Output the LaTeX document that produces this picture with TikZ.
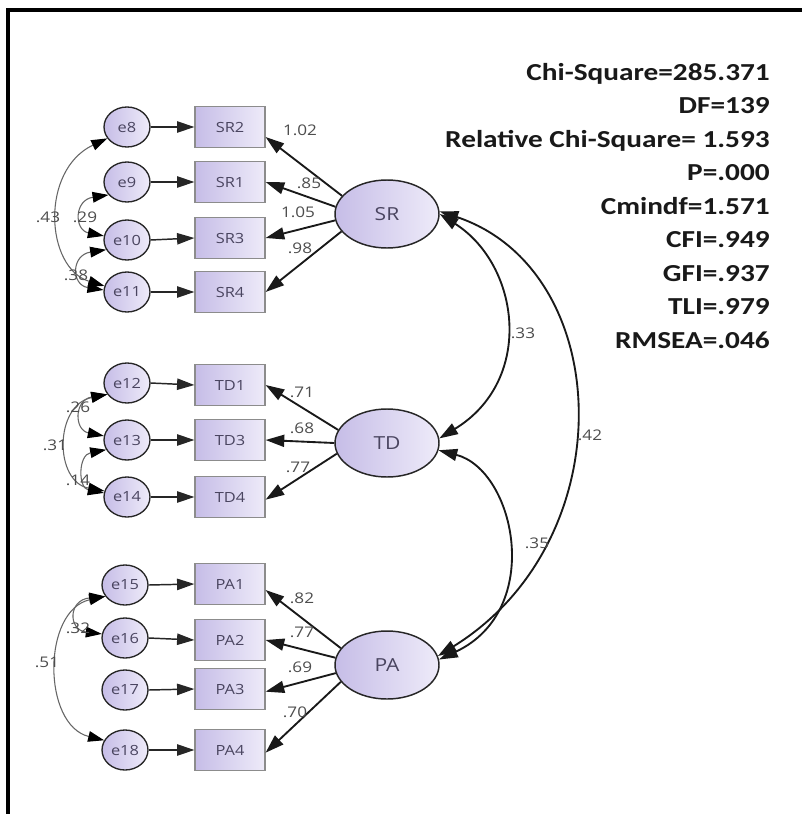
\documentclass[tikz,border=0pt]{standalone}
\usepackage{fontspec}
\usetikzlibrary{arrows.meta,shapes.geometric}
\newfontfamily\amosf[FakeStretch=1.17]{Open Sans}
\newfontfamily\fitf[FakeStretch=1.2]{Carlito}
\definecolor{lavL}{HTML}{C6BDE7}
\definecolor{lavR}{HTML}{EEEBF9}
\definecolor{txtc}{HTML}{4A4560}
\definecolor{numc}{HTML}{4D4D4D}
\begin{document}
\begin{tikzpicture}[x=0.75pt,y=-0.75pt,
 errc/.style={ellipse, draw=black!85, line width=1pt, left color=lavL, right color=lavR,
   minimum width=34.5pt, minimum height=30pt, inner sep=0pt,
   font=\amosf\fontsize{10.5}{12}\selectfont, text=txtc},
 obs/.style={rectangle, draw=gray!90, line width=0.9pt, left color=lavL, right color=lavR,
   minimum width=52.5pt, minimum height=30.75pt, inner sep=0pt,
   font=\amosf\fontsize{10.5}{12}\selectfont, text=txtc},
 lat/.style={ellipse, draw=black!85, line width=1.1pt, left color=lavL, right color=lavR,
   minimum width=78pt, minimum height=51pt, inner sep=0pt,
   font=\amosf\fontsize{13.5}{15}\selectfont, text=txtc},
 num/.style={font=\amosf\fontsize{11}{12}\selectfont, text=numc, inner sep=0pt},
 errarr/.style={-{Triangle[length=13pt,width=8.5pt]}, line width=1.1pt, draw=black!85},
 load/.style={-{Triangle[length=14pt,width=9pt]}, line width=1.4pt, draw=black!90},
 covL/.style={{Triangle[length=12pt,width=8pt,color=black]}-{Triangle[length=12pt,width=8pt,color=black]}, line width=0.8pt, draw=black!60},
 covR/.style={{Triangle[length=14pt,width=9pt]}-{Triangle[length=14pt,width=9pt]}, line width=1.4pt, draw=black!90},
 fitt/.style={font=\fitf\bfseries\fontsize{18.3}{20}\selectfont, text=black!90, inner sep=0pt, anchor=base east}]
\useasboundingbox (0,0) rectangle (802,814);
\fill[white] (0,0) rectangle (802,814);
\draw[line width=2.6pt] (8,820) -- (8,10) -- (810,10);

% error terms
\node[errc] (e8)  at (127,127) {e8};
\node[errc] (e9)  at (127,182) {e9};
\node[errc] (e10) at (127,240) {e10};
\node[errc] (e11) at (127,292) {e11};
\node[errc] (e12) at (127,383) {e12};
\node[errc] (e13) at (127,440) {e13};
\node[errc] (e14) at (127,497) {e14};
\node[errc] (e15) at (125,585) {e15};
\node[errc] (e16) at (125,638) {e16};
\node[errc] (e17) at (125,690) {e17};
\node[errc] (e18) at (125,750) {e18};

% observed
\node[obs] (SR2) at (230,127) {SR2};
\node[obs] (SR1) at (230,182) {SR1};
\node[obs] (SR3) at (230,238) {SR3};
\node[obs] (SR4) at (230,292) {SR4};
\node[obs] (TD1) at (230,385) {TD1};
\node[obs] (TD3) at (230,440) {TD3};
\node[obs] (TD4) at (230,497) {TD4};
\node[obs] (PA1) at (230,584) {PA1};
\node[obs] (PA2) at (230,640) {PA2};
\node[obs] (PA3) at (230,689) {PA3};
\node[obs] (PA4) at (230,750) {PA4};

% latent
\node[lat] (SR) at (387,214) {SR};
\node[lat] (TD) at (387,443) {TD};
\node[lat] (PA) at (387,665) {PA};

% error arrows
\foreach \a/\b in {e8/SR2,e9/SR1,e10/SR3,e11/SR4,e12/TD1,e13/TD3,e14/TD4,e15/PA1,e16/PA2,e17/PA3,e18/PA4}
  \draw[errarr] (\a.east) -- (\b.west);

% loadings
\draw[load] (SR.158) -- ([yshift=-7.5pt]SR2.east);
\draw[load] (SR.172) -- (SR1.east);
\draw[load] (SR.187) -- (SR3.east);
\draw[load] (SR.201) -- (SR4.east);
\draw[load] (TD.165) -- (TD1.east);
\draw[load] (TD.180) -- (TD3.east);
\draw[load] (TD.192) -- ([yshift=-2pt]TD4.east);
\draw[load] (PA.160) -- ([yshift=-4.5pt]PA1.east);
\draw[load] (PA.172) -- (PA2.east);
\draw[load] (PA.189) -- ([yshift=-2pt]PA3.east);
\draw[load] (PA.200) -- ([yshift=-2pt]PA4.east);

\node[num] (l1) at (300,130) {1.02};
\node[num] (l2) at (309,183) {.85};
\node[num] (l3) at (298,212) {1.05};
\node[num] (l4) at (300,248) {.98};
\node[num] (l5) at (302,392) {.71};
\node[num] (l6) at (302,428) {.68};
\node[num] (l7) at (298,467) {.77};
\node[num] (l8) at (302,598) {.82};
\node[num] (l9) at (302,632) {.77};
\node[num] (l10) at (300,667) {.69};
\node[num] (l11) at (295,712) {.70};

% left covariances
\draw[covL] (e8.210) .. controls (40,170) and (45,268) .. (e11.165);
\draw[covL] (e9.215) .. controls (74,200) and (74,230) .. (e10.170);
\draw[covL] (e10.205) .. controls (71,255) and (71,285) .. (e11.175);
\draw[covL] (e12.210) .. controls (74,400) and (74,430) .. (e13.170);
\draw[covL] (e13.205) .. controls (78,455) and (78,488) .. (e14.170);
\draw[covL] (e12.210) .. controls (54,405) and (54,482) .. (e14.165);
\draw[covL] (e15.210) .. controls (68,600) and (68,630) .. (e16.170);
\draw[covL] (e15.210) .. controls (42,610) and (42,725) .. (e18.155);

\node[num] (c1) at (48,217) {.43};
\node[num] (c2) at (85,217) {.29};
\node[num] (c3) at (76,275) {.38};
\node[num] (c4) at (78,407) {.26};
\node[num] (c5) at (55,445) {.31};
\node[num] (c6) at (78,480) {.14};
\node[num] (c7) at (78,628) {.32};
\node[num] (c8) at (47,662) {.51};

% right covariances
\draw[covR] (SR.east) .. controls (520,265) and (535,380) .. (TD.5);
\draw[covR] (SR.3) .. controls (615,270) and (625,540) .. (PA.10);
\draw[covR] (TD.-8) .. controls (515,470) and (545,610) .. (PA.6);

\node[num] (r1) at (523,333) {.33};
\node[num] (r2) at (590,435) {.42};
\node[num] (r3) at (537,543) {.35};

% fit statistics
\foreach \t [count=\i] in {Chi-Square=285.371, DF=139, Relative Chi-Square= 1.593, P=.000, Cmindf=1.571, CFI=.949, GFI=.937, TLI=.979, RMSEA=.046}
  \node[fitt] (fit\i) at (770,{46.5+33.5*\i}) {\t};
\end{tikzpicture}
\end{document}
